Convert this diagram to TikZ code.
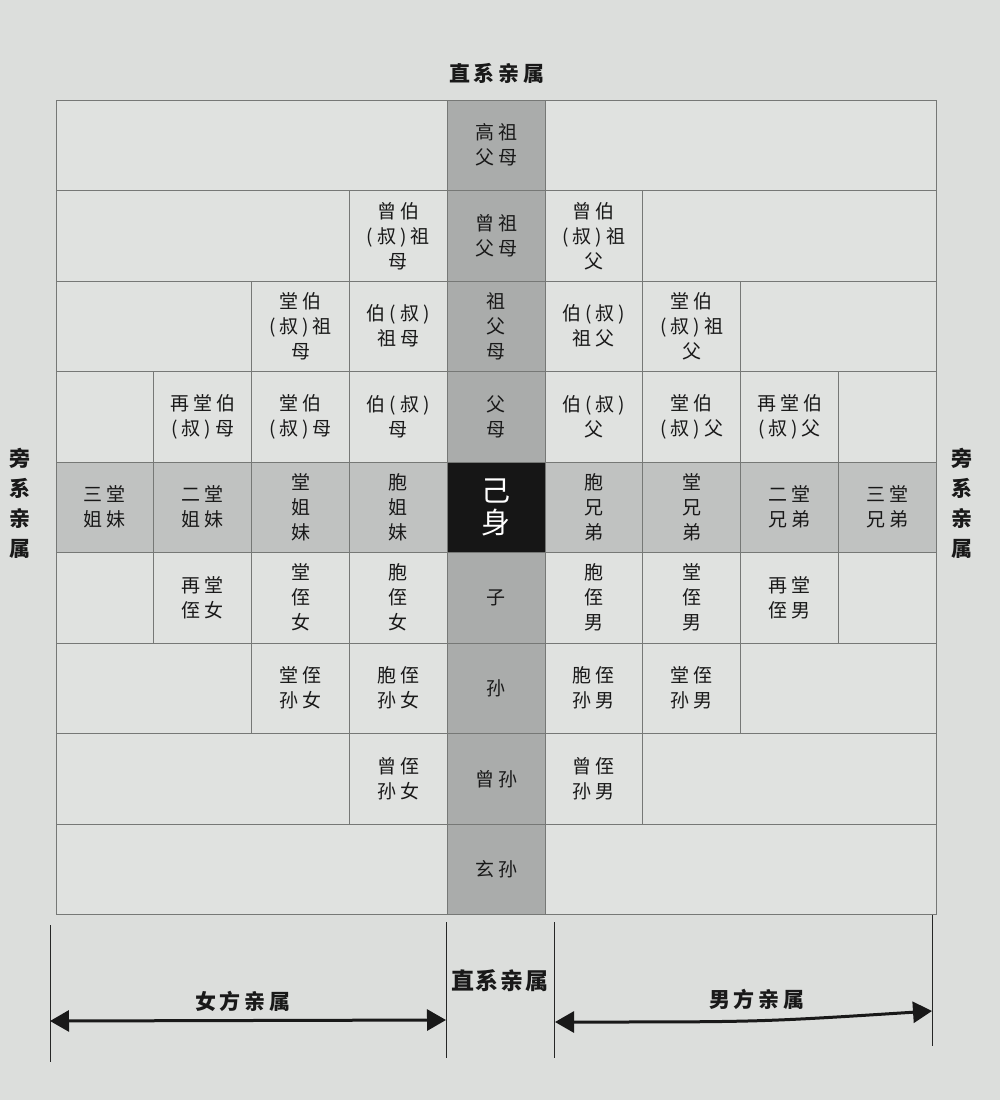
\documentclass[tikz,border=0pt]{standalone}
\usepackage{fontspec}
\newfontfamily\cjk{Noto Sans CJK SC}
\usetikzlibrary{arrows.meta}
\definecolor{bgc}{RGB}{220,222,220}
\definecolor{cellc}{RGB}{224,226,224}
\definecolor{linec}{RGB}{118,120,118}
\definecolor{centc}{RGB}{170,172,171}
\definecolor{sibc}{RGB}{192,194,193}
\definecolor{selfc}{RGB}{22,22,22}
\definecolor{inkc}{RGB}{25,25,25}
% letter-spaced text
\def\lsgap{4pt}
\def\ls#1{\lsi#1\lsend}
\def\lsi#1{\ifx#1\lsend\else#1\expandafter\lsj\fi}
\def\lsj#1{\ifx#1\lsend\else\kern\lsgap#1\expandafter\lsj\fi}
\def\cw{97.8}
\def\ch{90.5}
\def\xo{56}
\def\yo{100}
\newcommand\kcell[6]{\node[cellbox,#1,minimum width={#5*\cw},minimum height={\ch}] (#2) at ({\xo+(#3+#5/2)*\cw},{\yo+(#4+0.5)*\ch}) {#6};}
\tikzset{
  cellbox/.style={draw=linec,line width=1pt,fill=cellc,inner sep=0pt,align=center,text=inkc,
    font={\cjk\fontsize{19}{25}\selectfont}},
  cent/.style={fill=centc},
  sib/.style={fill=sibc},
  selfbox/.style={fill=selfc,text=white,font={\cjk\fontsize{29}{32}\selectfont}},
  lab/.style={text=inkc,align=center,inner sep=0pt,font={\cjk\fontsize{21}{30}\selectfont\bfseries}},
  dimline/.style={draw=black!85,line width=1pt},
  dimarrow/.style={draw=black!90,line width=3pt,{Triangle[length=19pt,width=21pt]}-{Triangle[length=19pt,width=21pt]}}
}
\begin{document}
\begin{tikzpicture}[x=1pt,y=-1pt]
\useasboundingbox (0,0) rectangle (1000,1100);
\fill[bgc] (0,0) rectangle (1000,1100);
% row 0
\kcell{}{r0a}{0}{0}{4}{}
\kcell{cent}{gaozu}{4}{0}{1}{\ls{高祖}\\\ls{父母}}
\kcell{}{r0b}{5}{0}{4}{}
% row 1
\kcell{}{r1a}{0}{1}{3}{}
\kcell{}{zengbozm}{3}{1}{1}{\ls{曾伯}\\\ls{(叔)祖}\\\ls{母}}
\kcell{cent}{zengzu}{4}{1}{1}{\ls{曾祖}\\\ls{父母}}
\kcell{}{zengbozf}{5}{1}{1}{\ls{曾伯}\\\ls{(叔)祖}\\\ls{父}}
\kcell{}{r1b}{6}{1}{3}{}
% row 2
\kcell{}{r2a}{0}{2}{2}{}
\kcell{}{tangbozm}{2}{2}{1}{\ls{堂伯}\\\ls{(叔)祖}\\\ls{母}}
\kcell{}{bozm}{3}{2}{1}{\ls{伯(叔)}\\\ls{祖母}}
\kcell{cent}{zufumu}{4}{2}{1}{祖\\父\\母}
\kcell{}{bozf}{5}{2}{1}{\ls{伯(叔)}\\\ls{祖父}}
\kcell{}{tangbozf}{6}{2}{1}{\ls{堂伯}\\\ls{(叔)祖}\\\ls{父}}
\kcell{}{r2b}{7}{2}{2}{}
% row 3
\kcell{}{r3a}{0}{3}{1}{}
\kcell{}{ztangbm}{1}{3}{1}{\ls{再堂伯}\\\ls{(叔)母}}
\kcell{}{tangbm}{2}{3}{1}{\ls{堂伯}\\\ls{(叔)母}}
\kcell{}{bm}{3}{3}{1}{\ls{伯(叔)}\\\ls{母}}
\kcell{cent}{fumu}{4}{3}{1}{父\\母}
\kcell{}{bf}{5}{3}{1}{\ls{伯(叔)}\\\ls{父}}
\kcell{}{tangbf}{6}{3}{1}{\ls{堂伯}\\\ls{(叔)父}}
\kcell{}{ztangbf}{7}{3}{1}{\ls{再堂伯}\\\ls{(叔)父}}
\kcell{}{r3b}{8}{3}{1}{}
% row 4
\kcell{sib}{santjm}{0}{4}{1}{\ls{三堂}\\\ls{姐妹}}
\kcell{sib}{ertjm}{1}{4}{1}{\ls{二堂}\\\ls{姐妹}}
\kcell{sib}{tjm}{2}{4}{1}{堂\\姐\\妹}
\kcell{sib}{bjm}{3}{4}{1}{胞\\姐\\妹}
\kcell{selfbox}{self}{4}{4}{1}{己\\身}
\kcell{sib}{bxd}{5}{4}{1}{胞\\兄\\弟}
\kcell{sib}{txd}{6}{4}{1}{堂\\兄\\弟}
\kcell{sib}{ertxd}{7}{4}{1}{\ls{二堂}\\\ls{兄弟}}
\kcell{sib}{santxd}{8}{4}{1}{\ls{三堂}\\\ls{兄弟}}
% row 5
\kcell{}{r5a}{0}{5}{1}{}
\kcell{}{ztzn}{1}{5}{1}{\ls{再堂}\\\ls{侄女}}
\kcell{}{tzn}{2}{5}{1}{堂\\侄\\女}
\kcell{}{bzn}{3}{5}{1}{胞\\侄\\女}
\kcell{cent}{zi}{4}{5}{1}{子}
\kcell{}{bznan}{5}{5}{1}{胞\\侄\\男}
\kcell{}{tznan}{6}{5}{1}{堂\\侄\\男}
\kcell{}{ztznan}{7}{5}{1}{\ls{再堂}\\\ls{侄男}}
\kcell{}{r5b}{8}{5}{1}{}
% row 6
\kcell{}{r6a}{0}{6}{2}{}
\kcell{}{tzsn}{2}{6}{1}{\ls{堂侄}\\\ls{孙女}}
\kcell{}{bzsn}{3}{6}{1}{\ls{胞侄}\\\ls{孙女}}
\kcell{cent}{sun}{4}{6}{1}{孙}
\kcell{}{bzsnan}{5}{6}{1}{\ls{胞侄}\\\ls{孙男}}
\kcell{}{tzsnan}{6}{6}{1}{\ls{堂侄}\\\ls{孙男}}
\kcell{}{r6b}{7}{6}{2}{}
% row 7
\kcell{}{r7a}{0}{7}{3}{}
\kcell{}{zzsn}{3}{7}{1}{\ls{曾侄}\\\ls{孙女}}
\kcell{cent}{zengsun}{4}{7}{1}{\ls{曾孙}}
\kcell{}{zzsnan}{5}{7}{1}{\ls{曾侄}\\\ls{孙男}}
\kcell{}{r7b}{6}{7}{3}{}
% row 8
\kcell{}{r8a}{0}{8}{4}{}
\kcell{cent}{xuansun}{4}{8}{1}{\ls{玄孙}}
\kcell{}{r8b}{5}{8}{4}{}
% labels
\def\lsgap{4pt}
\node[lab] (topl) at (497,73) {\ls{直系亲属}};
\node[lab] (leftl) at (20,503) {旁\\系\\亲\\属};
\node[lab] (rightl) at (962,503) {旁\\系\\亲\\属};
% bottom dimension lines
\coordinate (v1t) at (50,925);   \coordinate (v1b) at (50,1062);
\coordinate (v2t) at (446,922);  \coordinate (v2b) at (446,1058);
\coordinate (v3t) at (554,922);  \coordinate (v3b) at (554,1058);
\coordinate (v4t) at (932,915);  \coordinate (v4b) at (932,1046);
\draw[dimline] (v1t) -- (v1b);
\draw[dimline] (v2t) -- (v2b);
\draw[dimline] (v3t) -- (v3b);
\draw[dimline] (v4t) -- (v4b);
\coordinate (a1l) at (50,1021);  \coordinate (a1r) at (446,1020);
\coordinate (a2l) at (555,1022); \coordinate (a2r) at (932,1011);
\draw[dimarrow] (a1l) -- (a1r);
\draw[dimarrow] (a2l) .. controls (760,1022) .. (a2r);
\node[lab] (femall) at (243,1001) {\ls{女方亲属}};
\def\lsgap{2pt}
\node[lab,font={\cjk\fontsize{23}{30}\selectfont\bfseries}] (directl) at (500,981) {\ls{直系亲属}};
\def\lsgap{4pt}
\node[lab] (malel) at (757,999) {\ls{男方亲属}};
\end{tikzpicture}
\end{document}
